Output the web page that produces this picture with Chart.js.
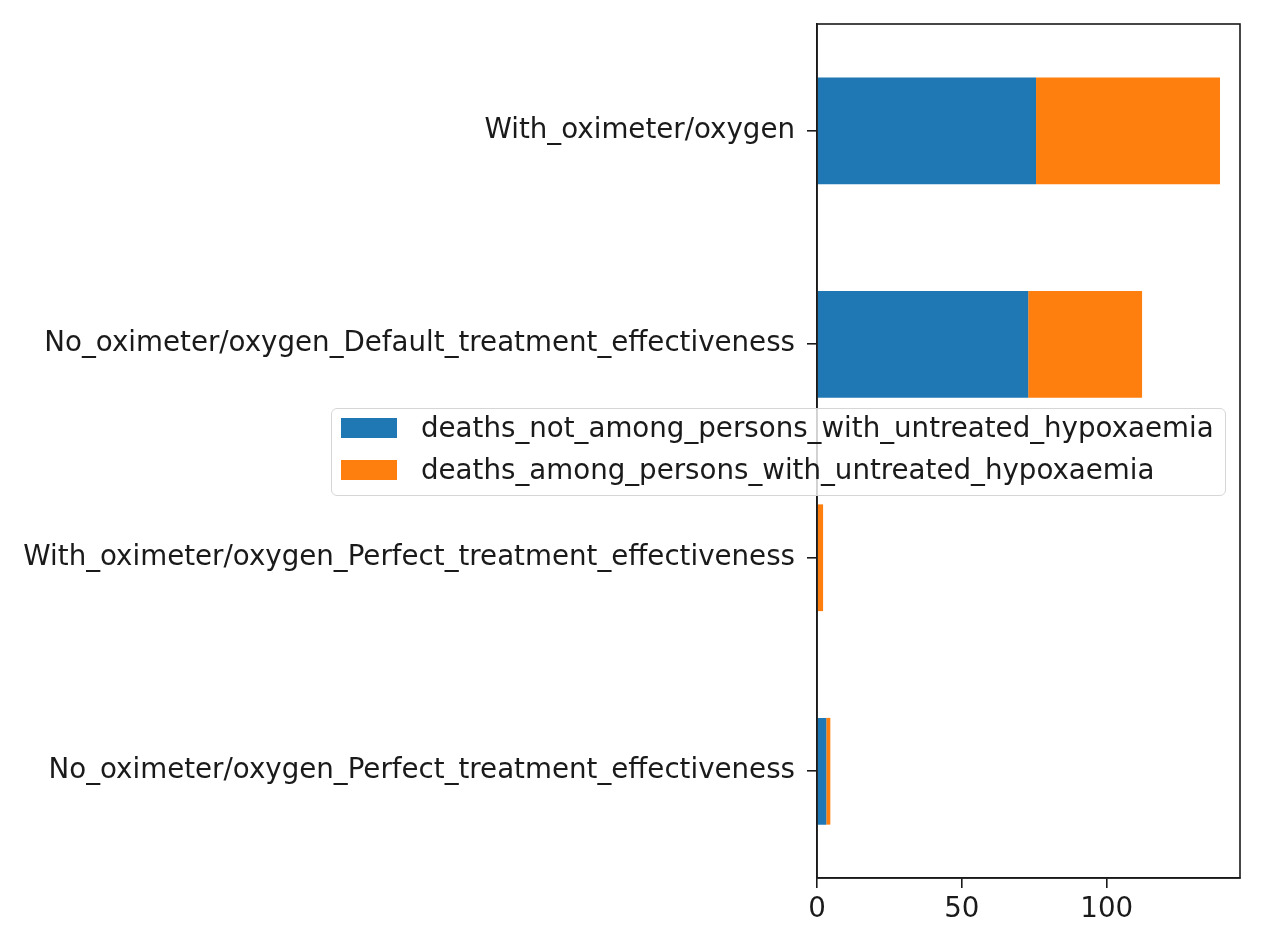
<!DOCTYPE html>
<html>
<head>
<meta charset="utf-8">
<title>Deaths by scenario</title>
<script src="https://cdn.jsdelivr.net/npm/chart.js@4.4.1/dist/chart.umd.min.js"></script>
<style>
  body { margin: 0; background: #fff; }
  #wrap { position: relative; width: 1266px; height: 940px; }
  #legend {
    position: absolute; left: 331px; top: 408px; width: 893px; height: 86px;
    border: 1.5px solid #d6d6d6; border-radius: 6px; background: rgba(255,255,255,0.8);
    font-family: 'DejaVu Sans', sans-serif; font-size: 27.7px; color: #1a1a1a;
  }
  .row { position: absolute; left: 9px; height: 21px; }
  .box { position: absolute; left: 0; top: 0; width: 56px; height: 20px; }
  .lbl { position: absolute; left: 80px; top: -8px; white-space: nowrap; line-height: 36px; }
</style>
</head>
<body>
<div id="wrap">
  <canvas id="chart"></canvas>
  <div id="legend"></div>
</div>
<script>
'use strict';

// Data
const scenarios = [
  'With_oximeter/oxygen',
  'No_oximeter/oxygen_Default_treatment_effectiveness',
  'With_oximeter/oxygen_Perfect_treatment_effectiveness',
  'No_oximeter/oxygen_Perfect_treatment_effectiveness'
];
const deathsNotUntreated = [75.6, 72.9, 0.2, 3.2];
const deathsUntreated = [63.5, 39.3, 1.9, 1.4];
const seriesNames = [
  'deaths_not_among_persons_with_untreated_hypoxaemia',
  'deaths_among_persons_with_untreated_hypoxaemia'
];
const seriesColors = ['#1f77b4', '#ff7f0e'];
const xTicks = [0, 50, 100];
const xMax = 146;

const font = { family: 'DejaVu Sans', size: 27.7 };

// box round the plot area, like matplotlib spines
const frame = {
  id: 'frame',
  afterDraw(chart) {
    const a = chart.chartArea;
    const ctx = chart.ctx;
    ctx.save();
    ctx.strokeStyle = '#1a1a1a';
    ctx.lineWidth = 1.6;
    ctx.strokeRect(a.left, a.top, a.right - a.left, a.bottom - a.top);
    ctx.restore();
  }
};

function chartRender() {
  const ctx = document.getElementById('chart').getContext('2d');
  new Chart(ctx, {
    type: 'bar',
    data: {
      labels: scenarios,
      datasets: [{
        label: seriesNames[0],
        data: deathsNotUntreated,
        backgroundColor: seriesColors[0],
        borderWidth: 0
      },
      {
        label: seriesNames[1],
        data: deathsUntreated,
        backgroundColor: seriesColors[1],
        borderWidth: 0
      }]
    },
    options: {
      indexAxis: 'y',
      responsive: true,
      maintainAspectRatio: false,
      animation: false,
      layout: { padding: { left: 0, top: 24, right: 26, bottom: 0 } },
      datasets: { bar: { barPercentage: 0.5, categoryPercentage: 1 } },
      plugins: {
        legend: { display: false },
        tooltip: { enabled: false }
      },
      scales: {
        x: {
          stacked: true,
          min: 0,
          max: xMax,
          afterBuildTicks: function (scale) {
            scale.ticks = xTicks.map(v => ({ value: v }));
          },
          afterFit: function (scale) {
            scale.height = 62;
          },
          grid: { drawOnChartArea: false, drawTicks: true, tickLength: 10, color: '#1a1a1a', lineWidth: 1.6 },
          border: { display: true, color: '#1a1a1a', width: 1.6 },
          ticks: { font: font, color: '#1a1a1a', padding: 5, maxRotation: 0 }
        },
        y: {
          stacked: true,
          afterFit: function (scale) {
            scale.width = 817;
            scale.paddingTop = 0;
            scale.paddingBottom = 0;
          },
          grid: { offset: false, drawOnChartArea: false, drawTicks: true, tickLength: 10, color: '#1a1a1a', lineWidth: 1.6 },
          border: { display: true, color: '#1a1a1a', width: 1.6 },
          ticks: { font: font, color: '#1a1a1a', padding: 12, autoSkip: false }
        }
      }
    },
    plugins: [frame]
  });
}

function legendRender() {
  const legend = document.getElementById('legend');
  for (let i = 0; i < seriesNames.length; i++) {
    const row = document.createElement('div');
    row.className = 'row';
    row.style.top = (9 + i * 42) + 'px';
    const box = document.createElement('div');
    box.className = 'box';
    box.style.background = seriesColors[i];
    const lbl = document.createElement('div');
    lbl.className = 'lbl';
    lbl.textContent = seriesNames[i];
    row.appendChild(box);
    row.appendChild(lbl);
    legend.appendChild(row);
  }
}

chartRender();
legendRender();
</script>
</body>
</html>
